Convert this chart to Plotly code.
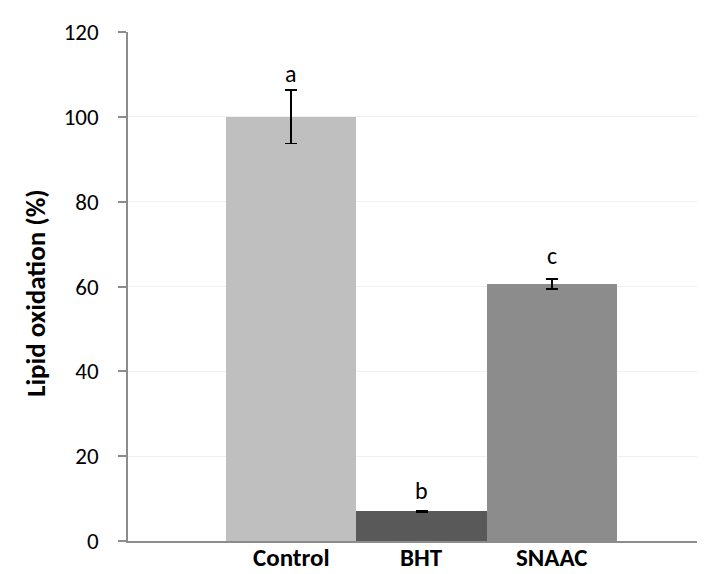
import plotly.graph_objects as go

categories = ["Control", "BHT", "SNAAC"]
values = [100, 7.0, 60.6]
errors = [6.3, 0.2, 1.2]
letters = ["a", "b", "c"]
letter_y = [110.3, 12.0, 67.2]
colors = ["#bfbfbf", "#595959", "#8c8c8c"]
y_ticks = [0, 20, 40, 60, 80, 100, 120]

FONT = "Carlito, Calibri, Lato, sans-serif"
xpos = list(range(len(categories)))

fig = go.Figure()
fig.add_trace(go.Bar(
    x=xpos, y=values, width=1.0,
    marker=dict(color=colors, line=dict(width=0)),
    error_y=dict(type="data", array=errors, visible=True,
                 color="black", thickness=1.5, width=6),
    showlegend=False,
))

for xi, t, ly in zip(xpos, letters, letter_y):
    fig.add_annotation(x=xi, y=ly, text=t, showarrow=False,
                       font=dict(family=FONT, size=24, color="black"),
                       xanchor="center", yanchor="middle")

L, R, T, B = 120, 1, 24, 41
W, H = 705, 574
pw = W - L - R
ph = H - T - B

# category labels placed below the axis
for xi, c in zip(xpos, categories):
    fig.add_annotation(x=xi, xref="x", yref="paper", y=-16 / ph,
                       text="<b>%s</b>" % c, showarrow=False,
                       font=dict(family=FONT, size=25, color="black"),
                       xanchor="center", yanchor="middle", borderpad=0)

fig.add_annotation(xref="paper", yref="paper", x=(27 - L) / pw, y=0.5 + (278.5 - 285) / ph,
                   text="<b>Lipid oxidation (%)</b>", textangle=-90,
                   showarrow=False, xanchor="center", yanchor="middle",
                   font=dict(family=FONT, size=27, color="black"))

fig.update_layout(
    width=W, height=H,
    margin=dict(l=L, r=R, t=T, b=B),
    paper_bgcolor="white", plot_bgcolor="white",
    bargap=0,
    xaxis=dict(
        range=[-1.249, 3.226],
        tickmode="array", tickvals=xpos, showticklabels=False,
        showgrid=False, zeroline=False,
        showline=True, linecolor="#8c8c8c", linewidth=2,
        ticks="", automargin=False,
    ),
    yaxis=dict(
        range=[0, 120], tickvals=y_ticks,
        tickfont=dict(family=FONT, size=23, color="black"),
        showgrid=True, gridcolor="#f0f0f0", gridwidth=1,
        zeroline=False,
        showline=True, linecolor="#8c8c8c", linewidth=1.5,
        ticks="outside", ticklen=8, tickcolor="#8c8c8c", tickwidth=1.5,
        ticklabelstandoff=15, automargin=False,
    ),
)

fig.write_html("out.html")
